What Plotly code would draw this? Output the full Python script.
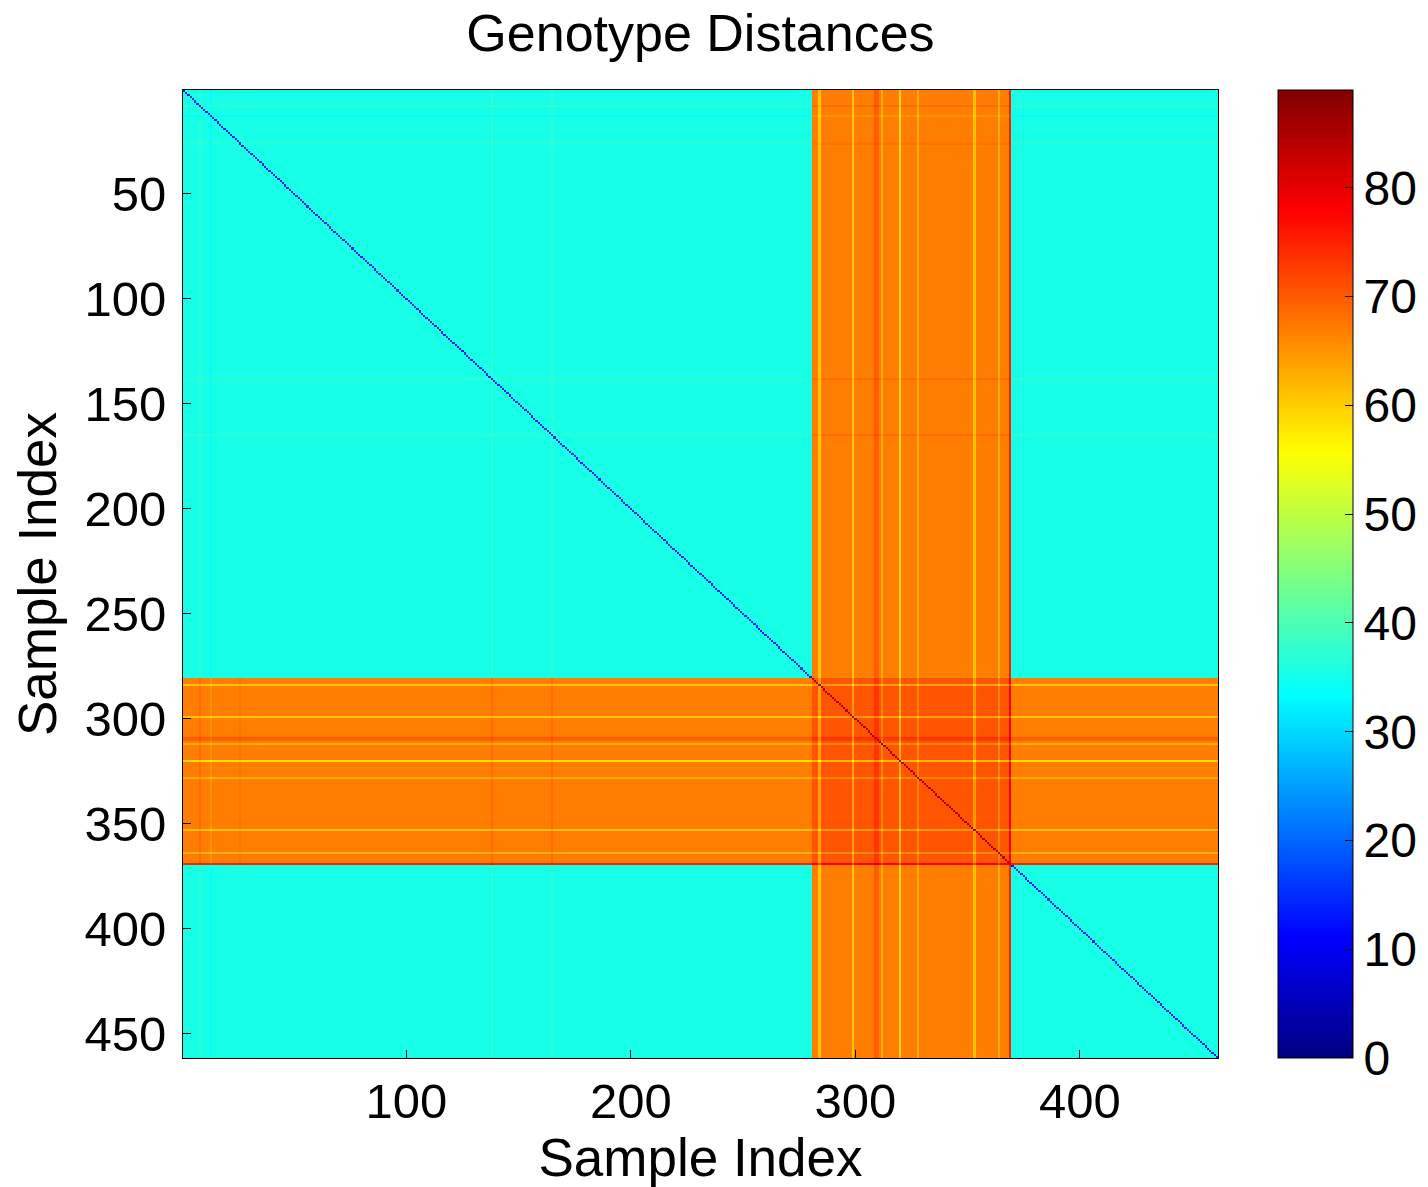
import numpy as np
import plotly.graph_objects as go

# ---- data ----
n_samples = 461
# groups: (first index, last index) -- 1-based sample indices
group_start = [1, 281, 370]
group_end = [280, 369, 461]
group_kind = [0, 1, 0]          # 0 = main population, 1 = distant population
# mean distance between kinds  [kind_i][kind_j]
block_mean = [[35.5, 67.0],
              [67.0, 70.5]]
# diagonal (self) appearance per kind
diag_value = [14.0, 84.0]
# per-sample offsets (visible lighter / darker stripes)
stripe_idx = [8, 13, 26, 138, 165, 284, 299, 309, 310, 312, 320, 328, 353, 364, 369]
stripe_off = [1.5, -2.0, 1.0, 1.5, 1.5, -6.5, -6.5, 3.0, 2.5, -4.5, -8.5, -4.5, -6.0, -4.5, 8.0]

colorbar_ticks = [0, 10, 20, 30, 40, 50, 60, 70, 80]
x_ticks = [100, 200, 300, 400]
y_ticks = [50, 100, 150, 200, 250, 300, 350, 400, 450]
z_max = 89

# ---- build matrix ----
kind = np.zeros(n_samples, dtype=int)
for s, e, k in zip(group_start, group_end, group_kind):
    kind[s - 1:e] = k
off = np.zeros(n_samples)
for i, o in zip(stripe_idx, stripe_off):
    off[i - 1] = o
bm = np.array(block_mean)
Z = bm[kind[:, None], kind[None, :]] + off[:, None] + off[None, :]
dv = np.array(diag_value)
Z[np.arange(n_samples), np.arange(n_samples)] = dv[kind]
Z = np.round(Z, 1)
idx = np.arange(1, n_samples + 1)

jet = [[0.0, "rgb(0,0,128)"], [0.125, "rgb(0,0,255)"], [0.375, "rgb(0,255,255)"],
       [0.625, "rgb(255,255,0)"], [0.875, "rgb(255,0,0)"], [1.0, "rgb(128,0,0)"]]

FONT = "Liberation Sans, Arial, sans-serif"

fig = go.Figure(go.Heatmap(
    z=Z.tolist(), x=idx.tolist(), y=idx.tolist(),
    colorscale=jet, zmin=0, zmax=z_max,
    colorbar=dict(
        x=1278 / 1428, xanchor="left", xref="container", xpad=0,
        y=0.5, yanchor="middle", yref="paper", len=1.0, lenmode="fraction", ypad=0,
        thickness=75, outlinecolor="black", outlinewidth=1,
        tickvals=colorbar_ticks, ticks="inside", ticklen=8, tickcolor="black",
        tickfont=dict(family=FONT, size=48, color="black"),
    ),
))

fig.update_layout(
    width=1428, height=1187,
    margin=dict(l=183, r=210, t=90, b=129),
    paper_bgcolor="white", plot_bgcolor="white",
    title=dict(text="Genotype Distances", x=0.5, xref="paper", xanchor="center",
               y=0.972, yanchor="middle", font=dict(family=FONT, size=52, color="black")),
    font=dict(family=FONT, color="black"),
)
fig.update_xaxes(range=[0.5, n_samples + 0.5], tickvals=x_ticks, ticks="inside", ticklen=8,
                 tickcolor="black", showline=True, linecolor="black", linewidth=1, mirror=True,
                 showgrid=False, zeroline=False, tickfont=dict(family=FONT, size=49),
                 title=dict(text="Sample Index", font=dict(family=FONT, size=53), standoff=6))
fig.update_yaxes(range=[n_samples + 0.5, 0.5], tickvals=y_ticks, ticks="inside", ticklen=8,
                 tickcolor="black", showline=True, linecolor="black", linewidth=1, mirror=True,
                 showgrid=False, zeroline=False, tickfont=dict(family=FONT, size=49),
                 ticklabelstandoff=6,
                 title=dict(text="Sample Index", font=dict(family=FONT, size=53), standoff=10))

fig.write_html("out.html")
